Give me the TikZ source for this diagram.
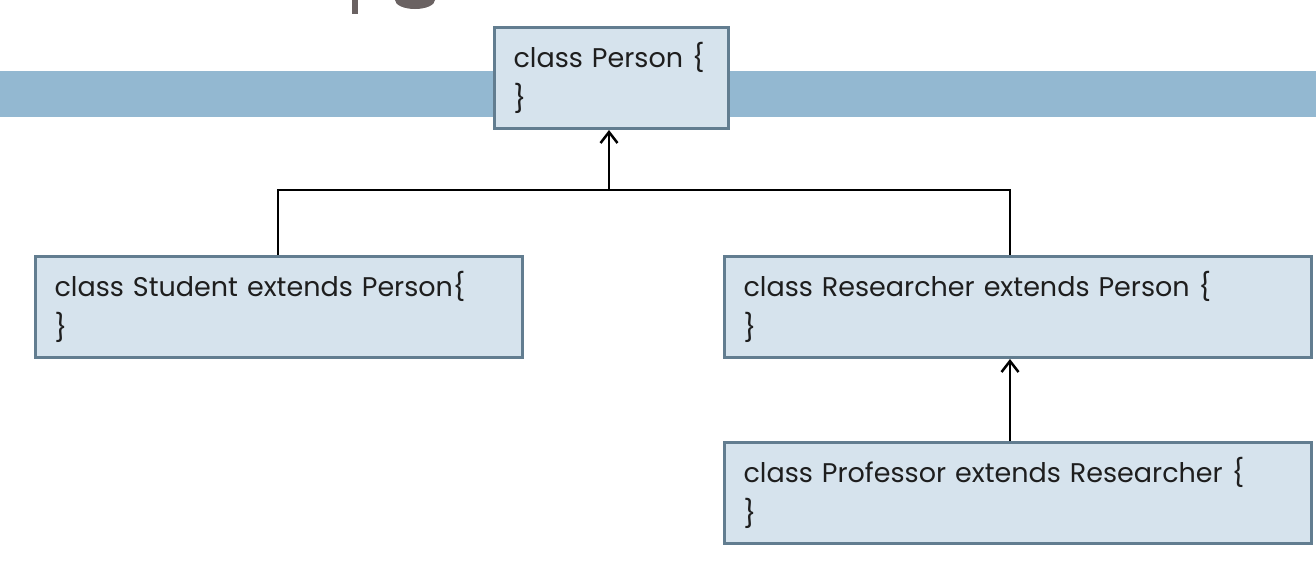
\documentclass[tikz,border=0pt]{standalone}
\usepackage{fontspec}
\setmainfont{Poppins}
\usetikzlibrary{arrows.meta}
\definecolor{band}{HTML}{93B8D1}
\definecolor{boxfill}{HTML}{D6E3ED}
\definecolor{boxline}{HTML}{627D90}
\definecolor{titlegrey}{HTML}{6A6262}
\definecolor{txt}{HTML}{1E1E1E}
\tikzset{
  classbox/.style={draw=boxline, line width=3pt, fill=boxfill, anchor=north west,
    align=left, inner xsep=19pt, inner ysep=0pt, text=txt,
    font=\fontsize{27}{41}\selectfont},
  conn/.style={draw=black, line width=2.5pt},
  inh/.style={conn, -{Straight Barb[length=11pt,width=17pt,line width=2.5pt]}}
}
\begin{document}
\begin{tikzpicture}[x=1pt,y=-1pt]
\useasboundingbox (0,0) rectangle (1316,560);
\fill[white] (0,0) rectangle (1316,560);
% cut-off title fragments
\fill[titlegrey] (352,0) rectangle (358,14);
\fill[titlegrey] (395,0) arc[start angle=180,end angle=0,x radius=20,y radius=9] -- cycle;
% band
\fill[band] (0,71) rectangle (1316,117);
% boxes
\node[classbox, minimum width=234pt, minimum height=101pt, text width=196pt] (person) at (493,26) {class Person \{\\\}};
\node[classbox, minimum width=487pt, minimum height=101pt, text width=449pt] (student) at (34,255) {class Student extends Person\{\\\}};
\node[classbox, minimum width=587pt, minimum height=101pt, text width=549pt] (researcher) at (723,255) {class Researcher extends Person \{\\\}};
\node[classbox, minimum width=587pt, minimum height=101pt, text width=549pt] (professor) at (723,441) {class Professor extends Researcher \{\\\}};
% connectors
\coordinate (pj) at (609,190);
\coordinate (rj) at (1010,190);
\draw[conn] (student.north -| 278,0) |- (rj) -- (researcher.north -| rj);
\draw[inh] (pj) -- (person.south -| pj);
\draw[inh] (professor.north -| rj) -- (researcher.south -| rj);
\end{tikzpicture}
\end{document}
